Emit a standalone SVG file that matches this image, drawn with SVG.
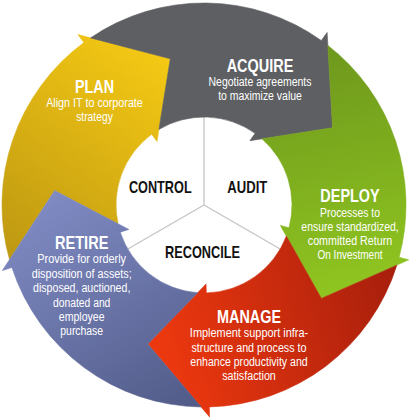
<svg xmlns="http://www.w3.org/2000/svg" width="410" height="417" viewBox="0 0 410 417">
<style>
.ttl{font-family:"Liberation Sans",Arial,sans-serif;font-weight:bold;font-size:19px;fill:#fff;text-anchor:middle}
.dsc{font-family:"Liberation Sans",Arial,sans-serif;font-size:12px;fill:#fff;text-anchor:middle}
.ctr{font-family:"Liberation Sans",Arial,sans-serif;font-weight:bold;font-size:17px;fill:#111;text-anchor:middle}
.div{stroke:#c4c4c4;stroke-width:1.3;fill:none}
</style>
<defs>
<linearGradient id="gY" gradientUnits="userSpaceOnUse" x1="175" y1="50" x2="20" y2="260"><stop offset="0" stop-color="#f7cb14"/><stop offset="1" stop-color="#bf9912"/></linearGradient>
<linearGradient id="gG" gradientUnits="userSpaceOnUse" x1="300" y1="60" x2="350" y2="290"><stop offset="0" stop-color="#6f991d"/><stop offset="1" stop-color="#8fc520"/></linearGradient>
<linearGradient id="gR" gradientUnits="userSpaceOnUse" x1="160" y1="340" x2="395" y2="280"><stop offset="0" stop-color="#ec380f"/><stop offset="1" stop-color="#a81f0c"/></linearGradient>
<linearGradient id="gB" gradientUnits="userSpaceOnUse" x1="60" y1="190" x2="190" y2="405"><stop offset="0" stop-color="#7f8ac3"/><stop offset="1" stop-color="#525c89"/></linearGradient>
</defs>
<g id="connectors">
<line class="div" x1="204" y1="205" x2="204" y2="117"/>
<line class="div" x1="204" y1="205" x2="127.8" y2="249"/>
<line class="div" x1="204" y1="205" x2="280.2" y2="249"/>
</g>
<g id="plan">
<path d="M9.51,259.60 A202,202 0 0 1 83.85,42.61 L77.90,34.57 L170.26,58.84 L157.01,141.49 L151.66,134.26 A88,88 0 0 0 118.02,223.74 L54.69,190.62 Z" fill="url(#gY)" stroke="url(#gY)" stroke-width="0.6"/>
<text class="ttl" x="94.5" y="92.7" textLength="39" lengthAdjust="spacingAndGlyphs">PLAN</text>
<text class="dsc" x="94.5" y="107.3" textLength="96.7" lengthAdjust="spacingAndGlyphs">Align IT to corporate</text>
<text class="dsc" x="94.5" y="120.7" textLength="36.7" lengthAdjust="spacingAndGlyphs">strategy</text>
</g>
<g id="acquire">
<path d="M90.52,37.89 A202,202 0 0 1 321.30,40.55 L327.11,32.41 L332.58,127.75 L249.88,140.69 L255.10,133.36 A88,88 0 0 0 158.94,129.41 L170.26,58.84 Z" fill="#5e5f62" stroke="#5e5f62" stroke-width="0.6"/>
<text class="ttl" x="260" y="71.7" textLength="66.7" lengthAdjust="spacingAndGlyphs">ACQUIRE</text>
<text class="dsc" x="260" y="86" textLength="103" lengthAdjust="spacingAndGlyphs">Negotiate agreements</text>
<text class="dsc" x="260" y="100" textLength="83.7" lengthAdjust="spacingAndGlyphs">to maximize value</text>
</g>
<g id="deploy">
<path d="M327.85,45.42 A202,202 0 0 1 399.12,257.28 L408.77,259.87 L321.39,298.38 L280.31,225.45 L289.00,227.77 A88,88 0 0 0 261.97,138.80 L332.58,127.75 Z" fill="url(#gG)" stroke="url(#gG)" stroke-width="0.6"/>
<text class="ttl" x="350" y="201.7" textLength="59.3" lengthAdjust="spacingAndGlyphs">DEPLOY</text>
<text class="dsc" x="350" y="216.7" textLength="60" lengthAdjust="spacingAndGlyphs">Processes to</text>
<text class="dsc" x="350" y="230.7" textLength="97.3" lengthAdjust="spacingAndGlyphs">ensure standardized,</text>
<text class="dsc" x="350" y="245" textLength="84.4" lengthAdjust="spacingAndGlyphs">committed Return</text>
<text class="dsc" x="350" y="259" textLength="65" lengthAdjust="spacingAndGlyphs">On Investment</text>
</g>
<g id="manage">
<path d="M396.85,265.14 A202,202 0 0 1 209.29,406.93 L209.55,416.93 L147.81,344.08 L206.07,283.97 L206.30,292.97 A88,88 0 0 0 286.32,236.11 L321.39,298.38 Z" fill="url(#gR)" stroke="url(#gR)" stroke-width="0.6"/>
<text class="ttl" x="249" y="322.7" textLength="64" lengthAdjust="spacingAndGlyphs">MANAGE</text>
<text class="dsc" x="249" y="337.3" textLength="118.3" lengthAdjust="spacingAndGlyphs">Implement support infra-</text>
<text class="dsc" x="249" y="351.7" textLength="115" lengthAdjust="spacingAndGlyphs">structure and process to</text>
<text class="dsc" x="249" y="365.7" textLength="117.3" lengthAdjust="spacingAndGlyphs">enhance productivity and</text>
<text class="dsc" x="249" y="380" textLength="53.7" lengthAdjust="spacingAndGlyphs">satisfaction</text>
</g>
<g id="retire">
<path d="M201.12,406.98 A202,202 0 0 1 11.88,267.42 L2.37,270.51 L54.69,190.62 L128.86,229.41 L120.30,232.19 A88,88 0 0 0 197.55,292.76 L147.81,344.08 Z" fill="url(#gB)" stroke="url(#gB)" stroke-width="0.6"/>
<text class="ttl" x="81.7" y="249.3" textLength="53.3" lengthAdjust="spacingAndGlyphs">RETIRE</text>
<text class="dsc" x="81.7" y="263.3" textLength="88.7" lengthAdjust="spacingAndGlyphs">Provide for orderly</text>
<text class="dsc" x="81.7" y="277.7" textLength="100" lengthAdjust="spacingAndGlyphs">disposition of assets;</text>
<text class="dsc" x="81.7" y="292" textLength="97.3" lengthAdjust="spacingAndGlyphs">disposed, auctioned,</text>
<text class="dsc" x="81.7" y="306.5" textLength="57.3" lengthAdjust="spacingAndGlyphs">donated and</text>
<text class="dsc" x="81.7" y="321" textLength="45.7" lengthAdjust="spacingAndGlyphs">employee</text>
<text class="dsc" x="81.7" y="335" textLength="42.7" lengthAdjust="spacingAndGlyphs">purchase</text>
</g>
<g id="control">
<text class="ctr" x="160.3" y="193.3" textLength="62.7" lengthAdjust="spacingAndGlyphs">CONTROL</text>
</g>
<g id="audit">
<text class="ctr" x="247.3" y="193.3" textLength="40" lengthAdjust="spacingAndGlyphs">AUDIT</text>
</g>
<g id="reconcile">
<text class="ctr" x="202.5" y="257.7" textLength="75" lengthAdjust="spacingAndGlyphs">RECONCILE</text>
</g>
</svg>
